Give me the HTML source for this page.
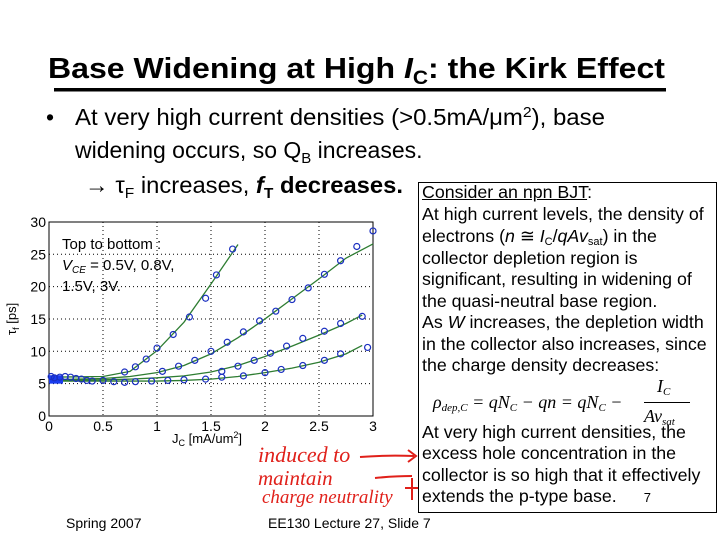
<!DOCTYPE html>
<html><head><meta charset="utf-8"><style>
body{margin:0;width:720px;height:540px;background:#fff;overflow:hidden;font-family:"Liberation Sans",sans-serif}
svg{position:absolute;left:0;top:0}
.bx{position:absolute;left:418px;top:182px;width:299px;height:331px;border:1px solid #000;box-sizing:border-box;font-size:17.8px;color:#000}
.bx .l{position:absolute;left:3px;white-space:nowrap}
.bx sub{font-size:11px;vertical-align:-3px}
</style></head><body>
<svg width="720" height="540">
<text x="48" y="78" font-size="29" font-weight="bold" textLength="617" lengthAdjust="spacingAndGlyphs">Base Widening at High <tspan font-style="italic">I</tspan><tspan font-size="19" dy="6">C</tspan><tspan dy="-6">: the Kirk Effect</tspan></text>
<rect x="54" y="88" width="612" height="3.5" fill="#000"/>
<g font-size="23">
<text x="46" y="125">•</text>
<text x="75" y="125" textLength="530" lengthAdjust="spacingAndGlyphs">At very high current densities (&gt;0.5mA/μm<tspan font-size="15" dy="-8">2</tspan><tspan dy="8">), base</tspan></text>
<text x="75" y="158">widening occurs, so Q<tspan font-size="15" dy="5">B</tspan><tspan dy="-5"> increases.</tspan></text>
<text x="85" y="193" textLength="318" lengthAdjust="spacingAndGlyphs">→ τ<tspan font-size="15" dy="5">F</tspan><tspan dy="-5"> increases, </tspan><tspan font-weight="bold" font-style="italic">f</tspan><tspan font-weight="bold" font-size="15" dy="5">T</tspan><tspan font-weight="bold" dy="-5"> decreases.</tspan></text>
</g>
<g id="chart"></g>
<g fill="none" stroke="#e0201a" stroke-width="2">
<text x="258" y="462" font-size="22" fill="#e0201a" stroke="none" font-family="Liberation Serif,serif" font-style="italic">induced to</text>
<text x="258" y="485" font-size="21" fill="#e0201a" stroke="none" font-family="Liberation Serif,serif" font-style="italic">maintain</text>
<text x="262" y="503" font-size="19" fill="#e0201a" stroke="none" font-family="Liberation Serif,serif" font-style="italic">charge neutrality</text>
<path d="M360 457 Q385 455 414 456 M408 450 L416 456 L408 462"/>
<path d="M375 478 Q395 476 412 476"/>
<path d="M412 478 L412 500 M405 488 L418 488"/>
</g>
<text x="66" y="528" font-size="14">Spring 2007</text>
<text x="268" y="528" font-size="14">EE130 Lecture 27, Slide 7</text>
</svg>
<div class="bx">
<div class="l" style="top:-1px"><u>Consider an npn BJT</u>:</div>
<div class="l" style="top:21px">At high current levels, the density of</div>
<div class="l" style="top:43px">electrons (<i>n</i> ≅ <i>I</i><sub>C</sub>/<i>qAv</i><sub>sat</sub>) in the</div>
<div class="l" style="top:65px">collector depletion region is</div>
<div class="l" style="top:86px">significant, resulting in widening of</div>
<div class="l" style="top:108px">the quasi-neutral base region.</div>
<div class="l" style="top:129px">As <i>W</i> increases, the depletion width</div>
<div class="l" style="top:151px">in the collector also increases, since</div>
<div class="l" style="top:172px">the charge density decreases:</div>
<div class="l" style="top:193px;left:0;font-family:'Liberation Serif',serif;font-style:italic;font-size:18px;width:290px;height:50px">
<span style="position:absolute;left:14px;top:16px">ρ<sub style="font-size:11px">dep,C</sub> = qN<sub>C</sub> − qn = qN<sub>C</sub> −</span>
<span style="position:absolute;left:238px;top:0px">I<sub>C</sub></span>
<span style="position:absolute;left:225px;top:26px;width:46px;border-top:1px solid #000;padding-top:3px">Av<sub>sat</sub></span></div>
<div class="l" style="top:239px">At very high current densities, the</div>
<div class="l" style="top:260px">excess hole concentration in the</div>
<div class="l" style="top:282px">collector is so high that it effectively</div>
<div class="l" style="top:303px">extends the p-type base. <span style="font-size:13px;margin-left:22px">7</span></div>
</div>
<script>
const xTicks=[0,0.5,1,1.5,2,2.5,3];
const yTicks=[0,5,10,15,20,25,30];
const s1x=[0.7,0.8,0.9,1.0,1.15,1.3,1.45,1.55,1.7];
const s1y=[6.8,7.6,8.8,10.5,12.6,15.3,18.2,21.8,25.8];
const s2x=[1.05,1.2,1.35,1.5,1.65,1.8,1.95,2.1,2.25,2.4,2.55,2.7,2.85,3.0];
const s2y=[6.9,7.7,8.6,10,11.4,13,14.7,16.2,18,19.8,21.9,24,26.2,28.6];
const s3x=[1.6,1.75,1.9,2.05,2.2,2.35,2.55,2.7,2.9];
const s3y=[6.9,7.7,8.6,9.7,10.8,12,13.1,14.3,15.4];
const s4x=[1.45,1.6,1.8,2.0,2.15,2.35,2.55,2.7,2.95];
const s4y=[5.7,6.0,6.2,6.7,7.2,7.8,8.6,9.6,10.6];
const lowX=[0.02,0.05,0.1,0.15,0.2,0.25,0.3,0.35,0.4,0.5,0.6,0.7,0.8,0.95,1.1,1.25];
const lowY=[6.1,5.9,6.0,6.1,6.0,5.8,5.7,5.5,5.4,5.5,5.3,5.2,5.3,5.4,5.5,5.6];
const fitX=[0,0.5,0.75,1.0,1.25,1.5,1.75,2.0,2.25,2.5,2.75,2.9,3.0];
const fit1=[6.0,6.1,6.9,10.1,14.5,20.4,26.5,null,null,null,null,null,null];
const fit2=[5.6,5.8,6.1,6.7,7.8,9.6,12.1,15.0,18.1,21.2,24.4,null,26.6];
const fit3=[5.5,5.6,5.7,5.9,6.2,6.8,7.8,9.2,10.8,12.5,14.3,15.6,null];
const fit4=[5.4,5.4,5.4,5.4,5.5,5.7,6.1,6.7,7.4,8.3,9.6,10.9,null];
const X=v=>49+v*108, Y=v=>416-v*6.47;
const g=document.getElementById('chart'),NS='http://www.w3.org/2000/svg';
function el(t,a,p){const e=document.createElementNS(NS,t);for(const k in a)e.setAttribute(k,a[k]);(p||g).appendChild(e);return e;}
let e=el('rect',{x:49,y:222,width:324,height:194,fill:'none',stroke:'#000'});


xTicks.forEach(t=>{if(t>0&&t<3){let l=el('line',{x1:X(t),x2:X(t),y1:222,y2:416,stroke:'#000','stroke-dasharray':'1,3'});}
let tx=el('text',{x:X(t),y:431,'font-size':14,'text-anchor':'middle'});tx.textContent=t;});
yTicks.forEach(t=>{if(t>0&&t<30){let l=el('line',{x1:49,x2:373,y1:Y(t),y2:Y(t),stroke:'#000','stroke-dasharray':'1,3'});}
let tx=el('text',{x:46,y:Y(t)+5,'font-size':14,'text-anchor':'end'});tx.textContent=t;});
let xl=el('text',{x:172,y:443,'font-size':13});xl.innerHTML='J<tspan font-size="9" dy="3">C</tspan><tspan dy="-3"> [mA/um</tspan><tspan font-size="9" dy="-5">2</tspan><tspan dy="5">]</tspan>';


let yl=el('text',{x:0,y:0,'font-size':13,transform:'translate(16,335) rotate(-90)'});yl.innerHTML='τ<tspan font-size="9" dy="3">f</tspan><tspan dy="-3"> [ps]</tspan>';


let lg=el('text',{x:62,y:249,'font-size':15});lg.innerHTML='<tspan x="62">Top to bottom :</tspan><tspan x="62" dy="21"><tspan font-style="italic">V</tspan><tspan font-style="italic" font-size="10" dy="3">CE</tspan><tspan dy="-3"> = 0.5V, 0.8V,</tspan></tspan><tspan x="62" dy="21">1.5V, 3V.</tspan>';


[fit1,fit2,fit3,fit4].forEach((f,i)=>{let pts=[];f.forEach((v,j)=>{if(v!==null)pts.push(X(fitX[j])+','+Y(v));});
let p=el('polyline',{points:pts.join(' '),fill:'none',stroke:'#2e7d32','stroke-width':1.3});});
el('rect',{x:49,y:Y(6.3),width:14,height:Y(5)-Y(6.3),fill:'#1a3cf0'});
[[s1x,s1y],[s2x,s2y],[s3x,s3y],[s4x,s4y],[lowX,lowY]].forEach((s,i)=>{s[0].forEach((x,j)=>{let c=el('circle',{cx:X(x),cy:Y(s[1][j]),r:3,fill:'none',stroke:'#1a2fc0','stroke-width':1.2});

});});
</script>
</body></html>
